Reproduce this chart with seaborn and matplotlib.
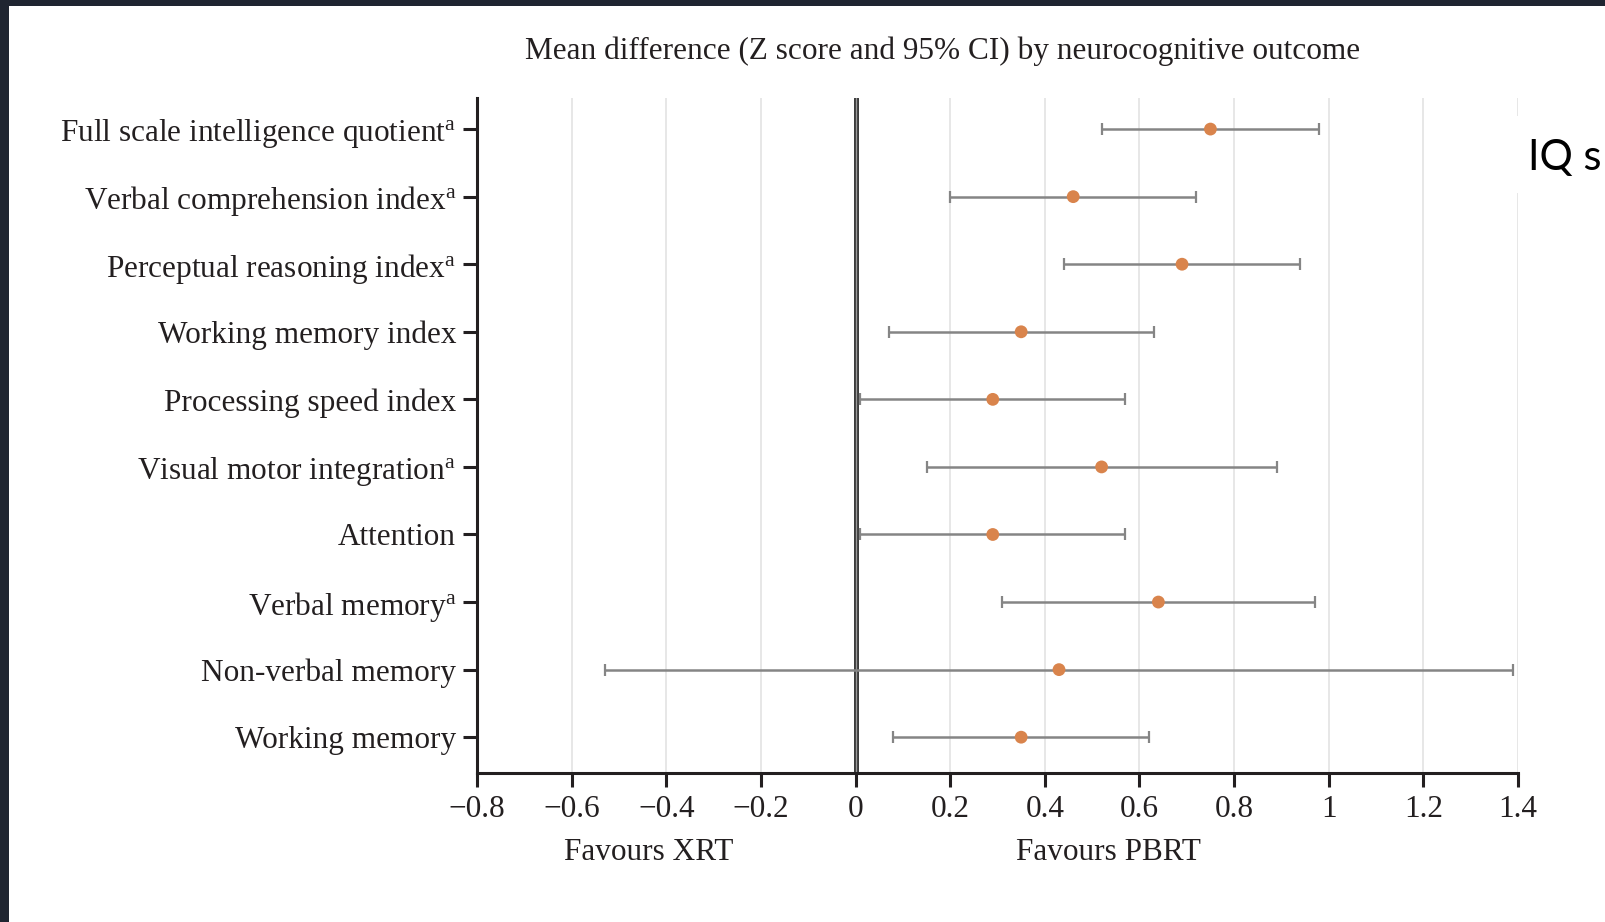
import numpy as np
import pandas as pd
import matplotlib
matplotlib.use("Agg")
import matplotlib.pyplot as plt
from matplotlib.patches import Rectangle
import seaborn as sns

# Neurocognitive outcomes and mean differences (Z score) with 95% CI
outcomes = [
    r"Full scale intelligence quotient$^{\mathrm{a}}$",
    r"Verbal comprehension index$^{\mathrm{a}}$",
    r"Perceptual reasoning index$^{\mathrm{a}}$",
    "Working memory index",
    "Processing speed index",
    r"Visual motor integration$^{\mathrm{a}}$",
    "Attention",
    r"Verbal memory$^{\mathrm{a}}$",
    "Non-verbal memory",
    "Working memory",
]
mean_diff = [0.75, 0.46, 0.69, 0.35, 0.29, 0.52, 0.29, 0.64, 0.43, 0.35]
ci_low = [0.52, 0.20, 0.44, 0.07, 0.01, 0.15, 0.01, 0.31, -0.53, 0.08]
ci_high = [0.98, 0.72, 0.94, 0.63, 0.57, 0.89, 0.57, 0.97, 1.39, 0.62]

x_ticks = [-0.8, -0.6, -0.4, -0.2, 0, 0.2, 0.4, 0.6, 0.8, 1.0, 1.2, 1.4]
x_tick_labels = ["\u22120.8", "\u22120.6", "\u22120.4", "\u22120.2", "0", "0.2",
                 "0.4", "0.6", "0.8", "1", "1.2", "1.4"]

sns.set_theme(style="white")
plt.rcParams["font.family"] = ["Liberation Serif", "DejaVu Serif"]
plt.rcParams["mathtext.fontset"] = "custom"
plt.rcParams["mathtext.rm"] = "Liberation Serif"
plt.rcParams["mathtext.it"] = "Liberation Serif:italic"

ink = "#231f20"
fs = 22.5

df = pd.DataFrame({
    "outcome": outcomes,
    "pos": np.arange(len(outcomes)),
    "mean": mean_diff,
    "lo": ci_low,
    "hi": ci_high,
})

fig = plt.figure(figsize=(16.06, 9.22), dpi=100)
fig.patch.set_facecolor("white")
ax = fig.add_axes([477 / 1606, 1 - 773 / 922, (1518 - 477) / 1606, (773 - 98) / 922])

# light vertical gridlines
for xv in x_ticks[1:]:
    ax.axvline(xv, color="#e3e3e3", lw=1.2, zorder=0)

# line of no difference
ax.axvline(0, color="#3c3c3c", lw=3.6, zorder=1)
ax.axvline(0, color="#9a9a9a", lw=0.9, zorder=1.1)

# confidence intervals
ax.errorbar(df["mean"], df["pos"],
            xerr=[df["mean"] - df["lo"], df["hi"] - df["mean"]],
            fmt="none", ecolor="#858585", elinewidth=1.8, capsize=4,
            capthick=1.6, zorder=2)

# point estimates
sns.scatterplot(data=df, x="mean", y="pos", ax=ax, color="#d9844c",
                s=85, edgecolor="none", zorder=3, legend=False)

ax.set_xlim(-0.8, 1.4)
ax.set_ylim(len(outcomes) - 1 + 0.53, -0.46)
ax.set_xticks(x_ticks)
ax.set_xticklabels(x_tick_labels)
ax.set_yticks(df["pos"])
ax.set_yticklabels(df["outcome"])
ax.set_xlabel("")
ax.set_ylabel("")

for side in ["top", "right"]:
    ax.spines[side].set_visible(False)
for side in ["left", "bottom"]:
    ax.spines[side].set_color(ink)
    ax.spines[side].set_linewidth(2.2)

ax.tick_params(axis="both", which="major", direction="out", length=10,
               width=2.2, color=ink, labelcolor=ink, labelsize=fs,
               left=True, bottom=True)
ax.tick_params(axis="y", pad=5)
ax.tick_params(axis="x", pad=6)

# title and direction labels
fig.text(943 / 1606, 1 - 51 / 922,
         "Mean difference (Z score and 95% CI) by neurocognitive outcome",
         ha="center", va="center", fontsize=fs, color=ink)
fig.text(649 / 1606, 1 - 852 / 922, "Favours XRT", ha="center", va="center",
         fontsize=fs, color=ink)
fig.text(1108 / 1606, 1 - 852 / 922, "Favours PBRT", ha="center", va="center",
         fontsize=fs, color=ink)

# side note on the right
fig.patches.append(Rectangle((1511 / 1606, 1 - 193 / 922), 95 / 1606, 77 / 922,
                             transform=fig.transFigure, facecolor="white",
                             edgecolor="none", zorder=5))
fig.text(1528 / 1606, 1 - 170 / 922, "IQ s", ha="left", va="baseline",
         fontsize=30, color="black", family=["Lato", "DejaVu Sans"], zorder=6)

# dark frame strips at top and left
frame = "#1f2531"
fig.patches.append(Rectangle((0, 1 - 6 / 922), 1, 6 / 922, transform=fig.transFigure,
                             facecolor=frame, edgecolor="none", zorder=7))
fig.patches.append(Rectangle((0, 0), 9 / 1606, 1, transform=fig.transFigure,
                             facecolor=frame, edgecolor="none", zorder=7))

fig.savefig("out.png", dpi=100, facecolor="white")
